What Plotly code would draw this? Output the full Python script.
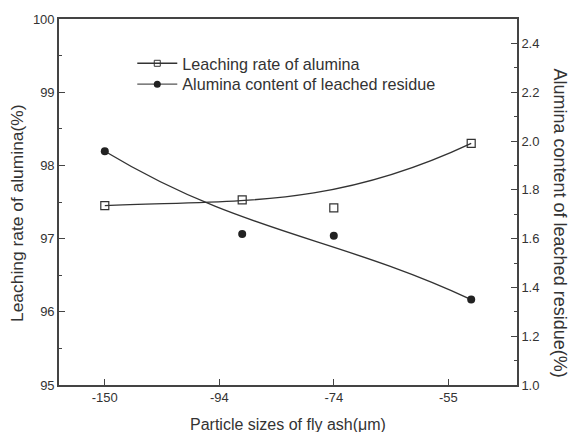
import plotly.graph_objects as go

# ---- data ----
categories = ["-150", "-94", "-74", "-55"]          # particle size tick labels (µm)
x_values = [0, 1.2, 2, 3.2]                          # where each measurement sits along the category axis
leaching_rate = [97.45, 97.53, 97.42, 98.30]         # % (left axis)
alumina_content = [1.958, 1.619, 1.612, 1.350]       # % (right axis)

series1_name = "Leaching rate of alumina"
series2_name = "Alumina content of leached residue"

ink = "#333333"
font_family = "Liberation Sans, Arial, sans-serif"

fig = go.Figure()

# smoothing curves (Origin-style B-spline: data points are the control points of a cubic Bezier)
def bezier_path(xs, ys):
    p = [f"{x},{y}" for x, y in zip(xs, ys)]
    return f"M {p[0]} C {p[1]} {p[2]} {p[3]}"

fig.add_shape(type="path", path=bezier_path(x_values, leaching_rate),
              xref="x", yref="y", line=dict(color=ink, width=1.4), layer="below")
fig.add_shape(type="path", path=bezier_path(x_values, alumina_content),
              xref="x", yref="y2", line=dict(color=ink, width=1.4), layer="below")

# markers
fig.add_trace(go.Scatter(x=x_values, y=leaching_rate, mode="markers", showlegend=False,
                         hoverinfo="skip",
                         marker=dict(symbol="square-open", size=8, color=ink,
                                     line=dict(width=1.2, color=ink))))
fig.add_trace(go.Scatter(x=x_values, y=alumina_content, mode="markers", showlegend=False,
                         yaxis="y2", hoverinfo="skip",
                         marker=dict(symbol="circle", size=8, color="#222222")))

# legend entries (two legends so the row spacing can match)
fig.add_trace(go.Scatter(x=[None], y=[None], mode="lines+markers", name=series1_name,
                         legend="legend",
                         line=dict(color=ink, width=1.4),
                         marker=dict(symbol="square-open", size=6, color=ink,
                                     line=dict(width=1, color=ink))))
fig.add_trace(go.Scatter(x=[None], y=[None], mode="lines+markers", name=series2_name,
                         yaxis="y2", legend="legend2",
                         line=dict(color="#555555", width=1.4),
                         marker=dict(symbol="circle", size=7, color="#222222")))

axis_common = dict(showline=True, linecolor="#444444", linewidth=1.6, ticks="inside",
                   tickcolor="#444444", tickwidth=1.4, ticklen=6, showgrid=False,
                   zeroline=False, tickfont=dict(size=13, color=ink, family=font_family))

legend_common = dict(xanchor="left", yanchor="middle", bgcolor="rgba(0,0,0,0)",
                     itemwidth=40, font=dict(size=16.2, color=ink, family=font_family))

fig.update_layout(
    width=570, height=432,
    margin=dict(l=59, r=53, t=17, b=47),
    paper_bgcolor="white", plot_bgcolor="white",
    font=dict(family=font_family, color=ink),
    xaxis=dict(range=[-0.4, 3.6], tickvals=[0, 1, 2, 3], ticktext=categories,
               mirror=True, **axis_common),
    yaxis=dict(range=[95, 100], dtick=1,
               minor=dict(ticks="inside", dtick=0.5, ticklen=3, tickcolor="#444444"),
               **axis_common),
    yaxis2=dict(range=[1.0, 2.5], dtick=0.2, tickformat=".1f", overlaying="y", side="right",
                minor=dict(ticks="inside", dtick=0.1, ticklen=3, tickcolor="#444444"),
                **axis_common),
    legend=dict(x=0.16, y=1 - (62 - 17) / 368, **legend_common),
    legend2=dict(x=0.16, y=1 - (83 - 17) / 368, **legend_common),
    annotations=[
        dict(text="Particle sizes of fly ash(μm)", xref="paper", yref="paper",
             x=0.5, y=-0.109, showarrow=False, xanchor="center", yanchor="middle",
             font=dict(size=16, color=ink, family=font_family)),
        dict(text="Leaching rate of alumina(%)", xref="paper", yref="paper",
             x=(17 - 59) / 458, y=0.47, showarrow=False, textangle=-90,
             xanchor="center", yanchor="middle",
             font=dict(size=17.4, color=ink, family=font_family)),
        dict(text="Alumina content of leached residue(%)", xref="paper", yref="paper",
             x=(560 - 59) / 458, y=0.444, showarrow=False, textangle=90,
             xanchor="center", yanchor="middle",
             font=dict(size=18, color=ink, family=font_family)),
    ],
)

fig.write_html("out.html", config={"displayModeBar": False},
               post_script="document.body.style.margin='0';")
